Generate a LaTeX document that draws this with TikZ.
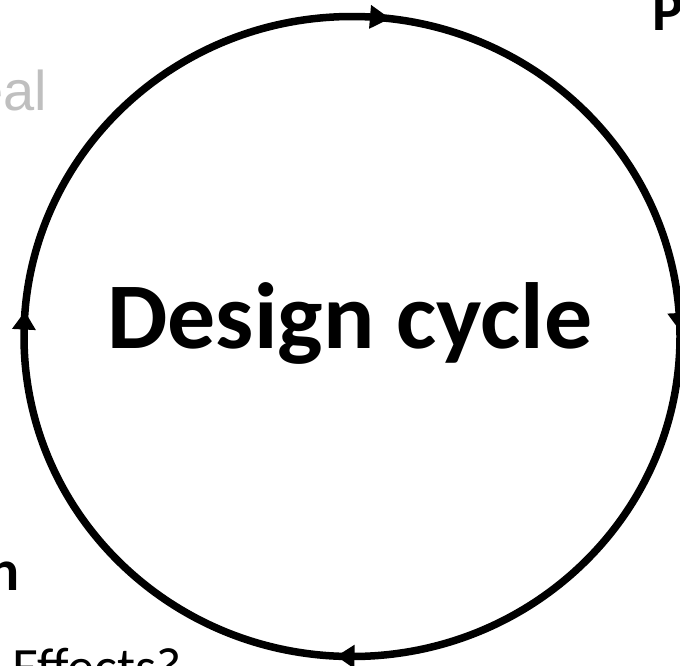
\documentclass[tikz,border=0pt]{standalone}
\usepackage{fontspec}
\setmainfont{Carlito}
\newfontfamily\arialfont{Liberation Sans}
\definecolor{paletext}{RGB}{191,191,191}
\begin{document}
\begin{tikzpicture}[x=1pt,y=-1pt,
  ring/.style={draw=black,line width=7.5pt},
  headtip/.style={fill=black},
  label/.style={inner sep=0pt,outer sep=0pt}]
\useasboundingbox (0,0) rectangle (680,665);
\clip (0,0) rectangle (680,665);
% cycle
\draw[ring] (352,336.5) ellipse [x radius=328pt, y radius=320pt];
% arrowheads (clockwise)
\fill[headtip] (389.97,18.53) -- (369.03,28.83) -- (371.03,4.91) -- cycle;
\fill[headtip] (680.1,331.0) -- (691.3,312.4) -- (667.3,313.6) -- cycle;
\fill[headtip] (336.5,656.2) -- (354.73,644.6) -- (354.27,668.6) -- cycle;
\fill[headtip] (24.86,311.5) -- (35.92,330.1) -- (11.96,328.9) -- cycle;
% texts
\node[label,anchor=base,xscale=1.02] (design) at (350,348) {\fontsize{94}{100}\selectfont\bfseries Design cycle};
\node[label,anchor=base east,text=paletext] (eal) at (47,110) {\arialfont\fontsize{56}{60}\selectfont eal};
\node[label,anchor=base west] (ptext) at (652.5,30.5) {\fontsize{58}{62}\selectfont\bfseries P};
\node[label,anchor=base east] (ntext) at (19.4,590.7) {\fontsize{58}{62}\selectfont\bfseries n};
\node[label,anchor=base west] (effects) at (12.5,685) {\fontsize{54}{60}\selectfont Effects?};
\end{tikzpicture}
\end{document}
